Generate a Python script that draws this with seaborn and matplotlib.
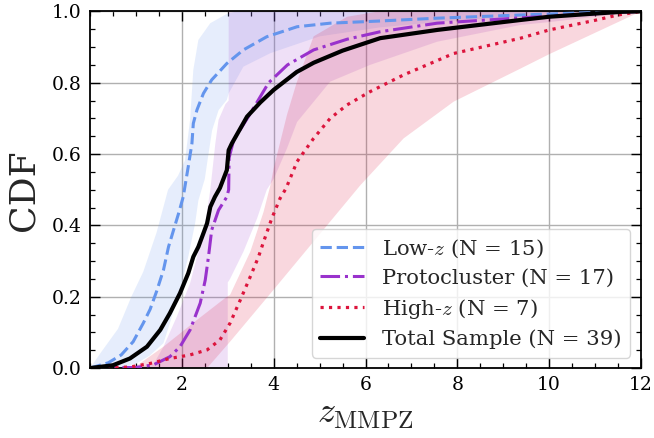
import numpy as np
import pandas as pd
import seaborn as sns
import matplotlib
matplotlib.use("Agg")
import matplotlib.pyplot as plt
from matplotlib.ticker import AutoMinorLocator

# ---------------- data ----------------
labels = ["Low-$z$ (N = 15)", "Protocluster (N = 17)", "High-$z$ (N = 7)", "Total Sample (N = 39)"]

lowz_z = [0, 0.4, 0.68, 0.94, 1.16, 1.31, 1.45, 1.6, 1.71, 1.82, 1.93, 2.03, 2.14, 2.22, 2.25,
          2.33, 2.47, 2.65, 2.98, 3.34, 3.85, 4.51, 5.23, 6.3, 7.56, 9.4, 11.0, 12]
lowz_c = [0, 0.015, 0.037, 0.074, 0.126, 0.165, 0.215, 0.275, 0.34, 0.387, 0.434, 0.48, 0.565, 0.63, 0.686,
          0.724, 0.77, 0.808, 0.854, 0.892, 0.929, 0.957, 0.967, 0.973, 0.981, 0.99, 0.997, 1.0]

proto_z = [0, 1.0, 1.38, 1.74, 1.96, 2.18, 2.40, 2.51, 2.58, 2.65, 2.80, 2.98, 3.02, 3.03, 3.13,
           3.45, 3.89, 4.3, 4.87, 5.6, 6.32, 7.56, 9.38, 10.5, 11.5, 12]
proto_c = [0, 0.002, 0.009, 0.032, 0.06, 0.107, 0.182, 0.247, 0.312, 0.387, 0.443, 0.48, 0.50, 0.59, 0.64,
           0.705, 0.80, 0.85, 0.892, 0.922, 0.943, 0.967, 0.982, 0.99, 0.997, 1.0]

highz_z = [0, 0.87, 1.31, 1.74, 2.18, 2.55, 2.83, 3.05, 3.27, 3.49, 3.67, 3.78, 3.96, 4.14, 4.27,
           4.51, 4.87, 5.23, 5.6, 6.1, 6.83, 7.92, 9.38, 10.0, 11.0, 11.5, 12]
highz_c = [0, 0.003, 0.013, 0.027, 0.037, 0.051, 0.079, 0.126, 0.19, 0.256, 0.312, 0.354, 0.42, 0.476, 0.504,
           0.579, 0.644, 0.70, 0.738, 0.775, 0.822, 0.882, 0.925, 0.948, 0.975, 0.99, 1.0]

total_z = [0, 0.5, 0.87, 1.24, 1.53, 1.74, 1.96, 2.14, 2.25, 2.36, 2.47, 2.55, 2.62, 2.72, 2.83, 2.98,
           3.02, 3.09, 3.42, 3.71, 4.0, 4.5, 4.87, 5.5, 6.32, 7.56, 9.38, 10.0, 11.0, 11.6, 12]
total_c = [0, 0.008, 0.027, 0.06, 0.107, 0.154, 0.21, 0.266, 0.312, 0.34, 0.378, 0.406, 0.452, 0.48, 0.505, 0.555,
           0.611, 0.63, 0.705, 0.745, 0.78, 0.83, 0.856, 0.89, 0.925, 0.948, 0.976, 0.985, 0.994, 0.999, 1.0]

# confidence bands: upper (left) edge and lower (right) edge
lowz_up_z = [0, 0.25, 0.61, 0.9, 1.16, 1.45, 1.70, 1.92, 2.07, 2.18, 2.25, 2.36, 2.62, 2.98, 3.2, 12]
lowz_up_c = [0, 0.046, 0.11, 0.2, 0.27, 0.38, 0.50, 0.54, 0.583, 0.696, 0.836, 0.92, 0.967, 0.993, 1.0, 1.0]
lowz_lo_z = [0, 0.6, 1.0, 1.3, 1.6, 1.74, 1.96, 2.14, 2.29, 2.36, 2.5, 2.58, 2.66, 2.80, 2.98, 3.02,
             3.34, 3.93, 5.0, 6.3, 8.0, 10.0, 12]
lowz_lo_c = [0, 0.0, 0.012, 0.035, 0.07, 0.126, 0.219, 0.312, 0.406, 0.47, 0.53, 0.6, 0.667, 0.723, 0.752, 0.77,
             0.845, 0.883, 0.93, 0.955, 0.975, 0.99, 1.0]

proto_up_z = [0.9, 1.38, 1.6, 1.89, 2.18, 2.33, 2.51, 2.62, 2.73, 2.80, 2.95, 3.02, 3.02, 12]
proto_up_c = [0, 0.01, 0.06, 0.144, 0.238, 0.312, 0.406, 0.50, 0.63, 0.696, 0.74, 0.75, 1.0, 1.0]
proto_lo_z = [3.0, 3.0, 3.05, 3.34, 3.64, 3.85, 4.0, 4.29, 4.51, 5.23, 6.1, 7.56, 9.38, 10.0, 12]
proto_lo_c = [0, 0.24, 0.25, 0.326, 0.42, 0.50, 0.53, 0.616, 0.69, 0.803, 0.85, 0.915, 0.962, 0.97, 1.0]

highz_up_z = [0.6, 1.0, 1.6, 2.33, 2.98, 3.05, 3.49, 3.78, 3.93, 4.0, 4.29, 4.5, 4.87, 5.6, 6.3, 12]
highz_up_c = [0, 0.005, 0.06, 0.135, 0.20, 0.205, 0.326, 0.438, 0.513, 0.56, 0.71, 0.8, 0.93, 0.985, 1.0, 1.0]
highz_lo_z = [2.55, 3.05, 4.0, 5.0, 5.89, 6.83, 7.92, 9.38, 10.0, 11.0, 12]
highz_lo_c = [0, 0.074, 0.22, 0.375, 0.513, 0.644, 0.747, 0.84, 0.88, 0.94, 1.0]

x_ticks = [2, 4, 6, 8, 10, 12]
y_ticks = [0.0, 0.2, 0.4, 0.6, 0.8, 1.0]

# ---------------- style ----------------
sns.set_theme(style="ticks")
plt.rcParams["font.family"] = ["DejaVu Serif"]
plt.rcParams["mathtext.fontset"] = "cm"

fig = plt.figure(figsize=(6.54, 4.38), dpi=100)
ax = fig.add_axes([90 / 654, 1 - 368.1 / 438, (641 - 90) / 654, (368.1 - 11.4) / 438])

blue = "#6495ED"
purple = "#9932CC"
red = "#DC143C"

def band(upz, upc, loz, loc, color, alpha):
    xs = list(upz) + list(loz)[::-1]
    ys = list(upc) + list(loc)[::-1]
    ax.fill(xs, ys, color=color, alpha=alpha, lw=0, zorder=1)

band(lowz_up_z, lowz_up_c, lowz_lo_z, lowz_lo_c, blue, 0.16)
band(proto_up_z, proto_up_c, proto_lo_z, proto_lo_c, purple, 0.15)
band(highz_up_z, highz_up_c, highz_lo_z, highz_lo_c, red, 0.17)

sns.lineplot(x=lowz_z, y=lowz_c, ax=ax, color=blue, lw=2.2, linestyle="--",
             label=labels[0], sort=False, estimator=None, zorder=3)
sns.lineplot(x=proto_z, y=proto_c, ax=ax, color=purple, lw=2.2, linestyle="-.",
             label=labels[1], sort=False, estimator=None, zorder=3)
sns.lineplot(x=highz_z, y=highz_c, ax=ax, color=red, lw=2.3, linestyle=":",
             label=labels[2], sort=False, estimator=None, zorder=3)
sns.lineplot(x=total_z, y=total_c, ax=ax, color="black", lw=3.0, linestyle="-",
             label=labels[3], sort=False, estimator=None, zorder=4)

ax.set_xlim(0, 12)
ax.set_ylim(0, 1)
ax.set_xticks(x_ticks)
ax.set_yticks(y_ticks)
ax.set_yticklabels([f"{v:.1f}" for v in y_ticks])
ax.xaxis.set_minor_locator(AutoMinorLocator(4))
ax.yaxis.set_minor_locator(AutoMinorLocator(4))
ax.tick_params(which="both", direction="in", top=True, right=True, colors="black")
ax.tick_params(which="major", length=7, width=1.0, labelsize=13.5, pad=6)
ax.tick_params(which="minor", length=3.5, width=0.9)
ax.grid(True, which="major", color="#b0b0b0", lw=1.0)
for s in ax.spines.values():
    s.set_color("black")
    s.set_linewidth(1.3)

ax.set_xlabel(r"$z_{\rm MMPZ}$", fontsize=26, labelpad=2)
ax.set_ylabel("CDF", fontsize=26, labelpad=8)

ax.legend(loc="lower right", fontsize=15.2, handlelength=2.05, handletextpad=0.9,
          labelspacing=0.42, borderpad=0.4, borderaxespad=0.5, frameon=True)

fig.savefig("out.png", dpi=100)
